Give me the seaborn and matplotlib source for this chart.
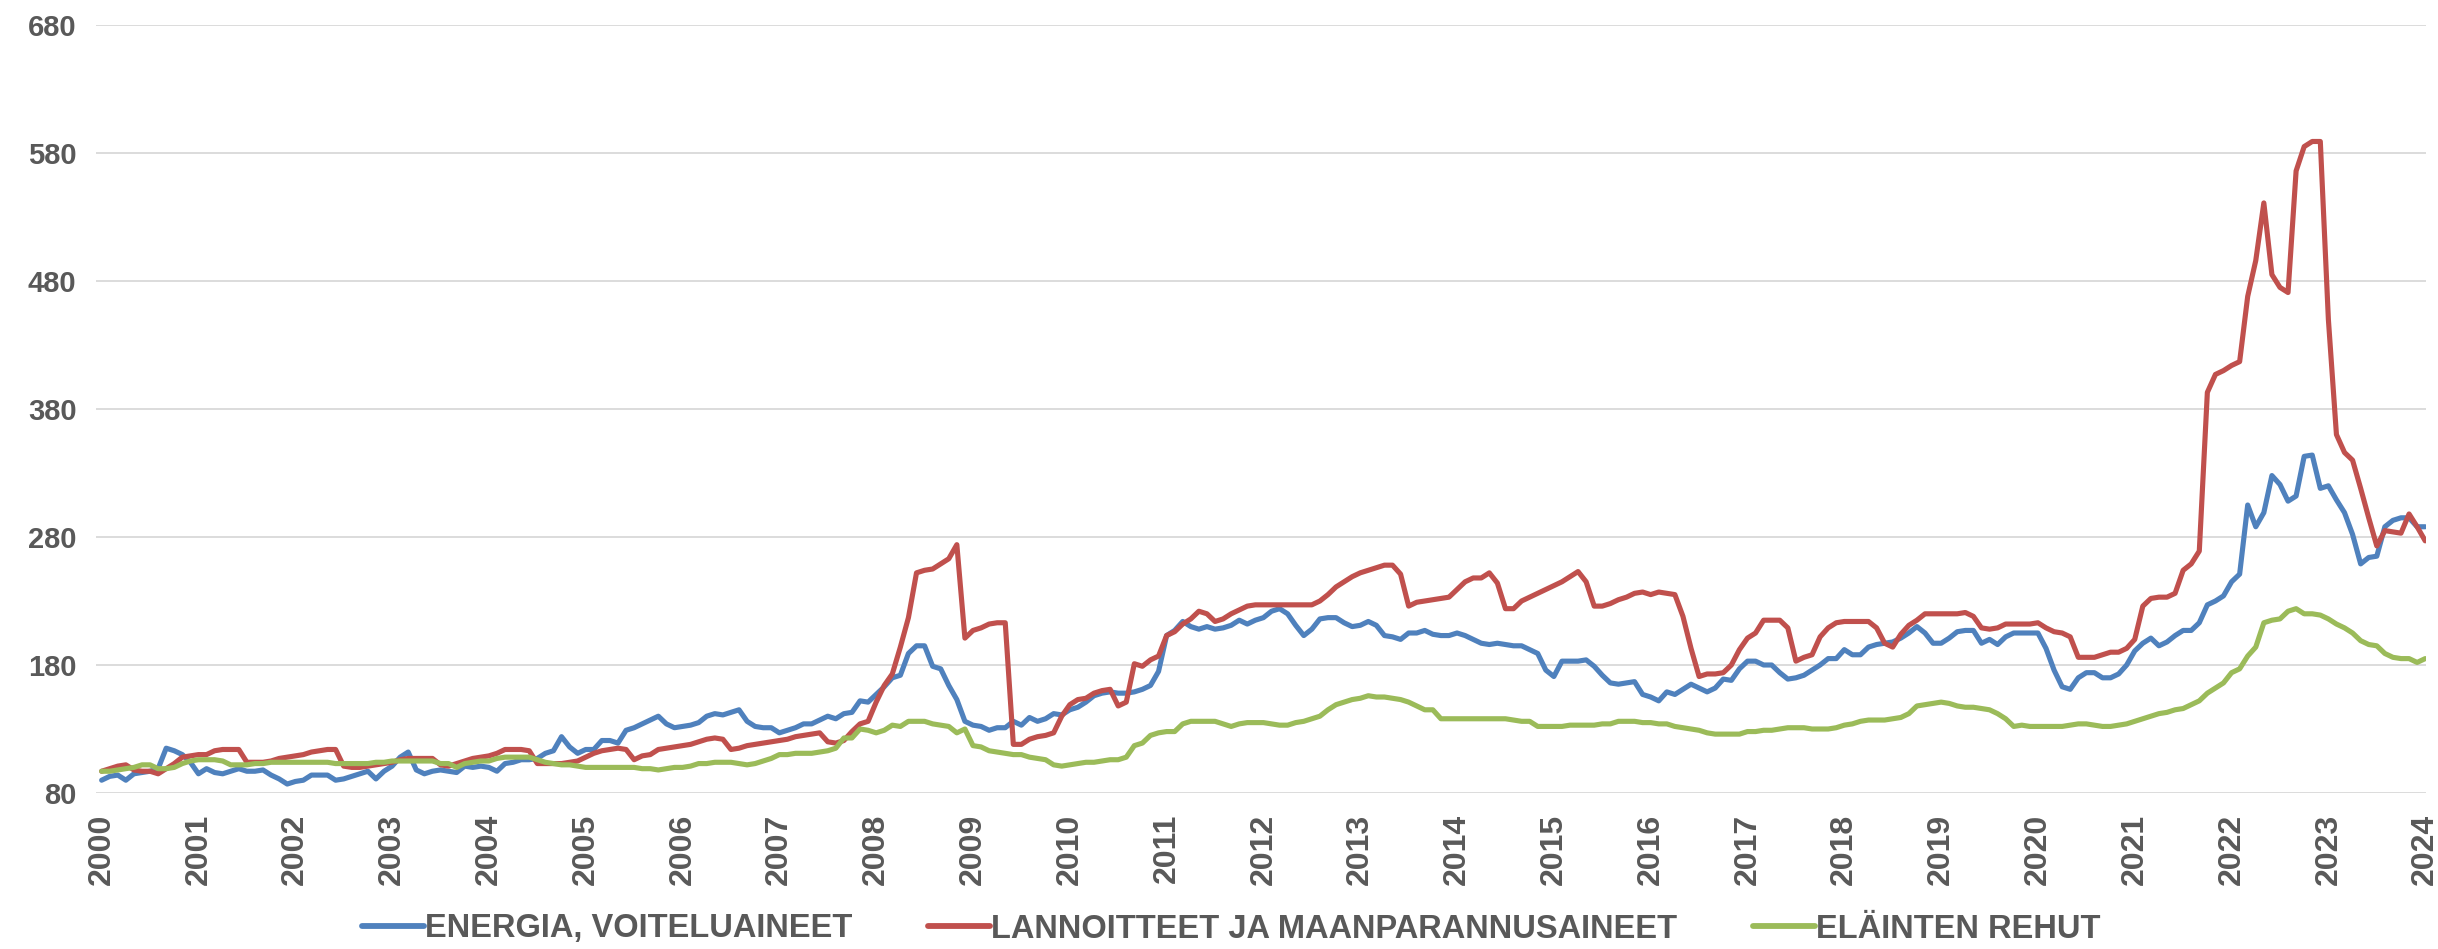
import numpy as np
import pandas as pd
import matplotlib
matplotlib.use("Agg")
import matplotlib.pyplot as plt
import seaborn as sns

# ---- data (monthly index values, 2000-01 ... 2024-01) ----
year_labels = [str(y) for y in range(2000, 2025)]

energia = [
    90, 93, 94, 90, 95, 96, 97, 99, 115, 113, 110, 104,          # 2000
    95, 99, 96, 95, 97, 99, 97, 97, 98, 94, 91, 87,              # 2001
    89, 90, 94, 94, 94, 90, 91, 93, 95, 97, 91, 97,              # 2002
    101, 108, 112, 98, 95, 97, 98, 97, 96, 101, 100, 101,        # 2003
    100, 97, 103, 104, 106, 106, 107, 111, 113, 124, 116, 111,   # 2004
    114, 114, 121, 121, 119, 129, 131, 134, 137, 140, 134, 131,  # 2005
    132, 133, 135, 140, 142, 141, 143, 145, 136, 132, 131, 131,  # 2006
    127, 129, 131, 134, 134, 137, 140, 138, 142, 143, 152, 151,  # 2007
    157, 163, 170, 172, 189, 195, 195, 179, 177, 164, 153, 136,  # 2008
    133, 132, 129, 131, 131, 136, 133, 139, 136, 138, 142, 141,  # 2009
    145, 147, 151, 156, 158, 159, 158, 158, 159, 161, 164, 175,  # 2010
    203, 207, 214, 210, 208, 210, 208, 209, 211, 215, 212, 215,  # 2011
    217, 222, 224, 220, 211, 203, 208, 216, 217, 217, 213, 210,  # 2012
    211, 214, 211, 203, 202, 200, 205, 205, 207, 204, 203, 203,  # 2013
    205, 203, 200, 197, 196, 197, 196, 195, 195, 192, 189, 176,  # 2014
    171, 183, 183, 183, 184, 179, 172, 166, 165, 166, 167, 157,  # 2015
    155, 152, 159, 157, 161, 165, 162, 159, 162, 169, 168, 177,  # 2016
    183, 183, 180, 180, 174, 169, 170, 172, 176, 180, 185, 185,  # 2017
    192, 188, 188, 194, 196, 197, 198, 201, 205, 210, 205, 197,  # 2018
    197, 201, 206, 207, 207, 197, 200, 196, 202, 205, 205, 205,  # 2019
    205, 193, 176, 163, 161, 170, 174, 174, 170, 170, 173, 180,  # 2020
    191, 197, 201, 195, 198, 203, 207, 207, 213, 227, 230, 234,  # 2021
    245, 251, 305, 288, 299, 328, 321, 308, 312, 343, 344, 318,  # 2022
    320, 309, 299, 282, 259, 264, 265, 288, 293, 295, 295, 288,  # 2023
    288,                                                          # 2024
]

lannoitteet = [
    97, 99, 101, 102, 98, 97, 97, 95, 99, 103, 108, 109,         # 2000
    110, 110, 113, 114, 114, 114, 104, 104, 104, 105, 107, 108,  # 2001
    109, 110, 112, 113, 114, 114, 101, 100, 100, 101, 102, 103,  # 2002
    104, 106, 107, 107, 107, 107, 102, 101, 103, 105, 107, 108,  # 2003
    109, 111, 114, 114, 114, 113, 103, 103, 103, 103, 104, 105,  # 2004
    108, 111, 113, 114, 115, 114, 106, 109, 110, 114, 115, 116,  # 2005
    117, 118, 120, 122, 123, 122, 114, 115, 117, 118, 119, 120,  # 2006
    121, 122, 124, 125, 126, 127, 120, 119, 121, 128, 134, 136,  # 2007
    151, 164, 173, 194, 217, 252, 254, 255, 259, 263, 274, 201,  # 2008
    207, 209, 212, 213, 213, 118, 118, 122, 124, 125, 127, 140,  # 2009
    149, 153, 154, 158, 160, 161, 148, 151, 181, 179, 184, 187,  # 2010
    203, 206, 212, 216, 222, 220, 214, 216, 220, 223, 226, 227,  # 2011
    227, 227, 227, 227, 227, 227, 227, 230, 235, 241, 245, 249,  # 2012
    252, 254, 256, 258, 258, 251, 226, 229, 230, 231, 232, 233,  # 2013
    239, 245, 248, 248, 252, 244, 224, 224, 230, 233, 236, 239,  # 2014
    242, 245, 249, 253, 245, 226, 226, 228, 231, 233, 236, 237,  # 2015
    235, 237, 236, 235, 218, 193, 171, 173, 173, 174, 180, 192,  # 2016
    201, 205, 215, 215, 215, 209, 183, 186, 188, 202, 209, 213,  # 2017
    214, 214, 214, 214, 209, 197, 194, 204, 211, 215, 220, 220,  # 2018
    220, 220, 220, 221, 218, 209, 208, 209, 212, 212, 212, 212,  # 2019
    213, 209, 206, 205, 202, 186, 186, 186, 188, 190, 190, 193,  # 2020
    200, 226, 232, 233, 233, 236, 254, 259, 269, 393, 407, 410,  # 2021
    414, 417, 468, 496, 541, 485, 475, 471, 566, 585, 589, 589,  # 2022
    450, 360, 346, 340, 318, 295, 273, 285, 284, 283, 298, 288,  # 2023
    277,                                                          # 2024
]

rehut = [
    97, 97, 98, 99, 100, 102, 102, 99, 99, 100, 103, 105,        # 2000
    106, 106, 106, 105, 102, 102, 102, 103, 103, 104, 104, 104,  # 2001
    104, 104, 104, 104, 104, 103, 103, 103, 103, 103, 104, 104,  # 2002
    105, 105, 105, 105, 105, 105, 103, 103, 100, 103, 104, 105,  # 2003
    105, 107, 108, 108, 108, 108, 106, 104, 103, 102, 102, 101,  # 2004
    100, 100, 100, 100, 100, 100, 100, 99, 99, 98, 99, 100,      # 2005
    100, 101, 103, 103, 104, 104, 104, 103, 102, 103, 105, 107,  # 2006
    110, 110, 111, 111, 111, 112, 113, 115, 123, 123, 130, 129,  # 2007
    127, 129, 133, 132, 136, 136, 136, 134, 133, 132, 127, 130,  # 2008
    117, 116, 113, 112, 111, 110, 110, 108, 107, 106, 102, 101,  # 2009
    102, 103, 104, 104, 105, 106, 106, 108, 117, 119, 125, 127,  # 2010
    128, 128, 134, 136, 136, 136, 136, 134, 132, 134, 135, 135,  # 2011
    135, 134, 133, 133, 135, 136, 138, 140, 145, 149, 151, 153,  # 2012
    154, 156, 155, 155, 154, 153, 151, 148, 145, 145, 138, 138,  # 2013
    138, 138, 138, 138, 138, 138, 138, 137, 136, 136, 132, 132,  # 2014
    132, 132, 133, 133, 133, 133, 134, 134, 136, 136, 136, 135,  # 2015
    135, 134, 134, 132, 131, 130, 129, 127, 126, 126, 126, 126,  # 2016
    128, 128, 129, 129, 130, 131, 131, 131, 130, 130, 130, 131,  # 2017
    133, 134, 136, 137, 137, 137, 138, 139, 142, 148, 149, 150,  # 2018
    151, 150, 148, 147, 147, 146, 145, 142, 138, 132, 133, 132,  # 2019
    132, 132, 132, 132, 133, 134, 134, 133, 132, 132, 133, 134,  # 2020
    136, 138, 140, 142, 143, 145, 146, 149, 152, 158, 162, 166,  # 2021
    174, 177, 187, 194, 213, 215, 216, 222, 224, 220, 220, 219,  # 2022
    216, 212, 209, 205, 199, 196, 195, 189, 186, 185, 185, 182,  # 2023
    185,                                                          # 2024
]

series_names = ["ENERGIA, VOITELUAINEET",
                "LANNOITTEET JA MAANPARANNUSAINEET",
                "ELÄINTEN REHUT"]
y_ticks = [80, 180, 280, 380, 480, 580, 680]

# ---- styling ----
colors = ["#4F81BD", "#C0504D", "#9BBB59"]
text_color = "#595959"
grid_color = "#D9D9D9"

months = np.arange(len(energia))
df = pd.concat([
    pd.DataFrame({"kk": months, "arvo": vals, "sarja": name})
    for name, vals in zip(series_names, [energia, lannoitteet, rehut])
], ignore_index=True)

sns.set_theme(style="white")
plt.rcParams["font.family"] = ["Liberation Sans", "DejaVu Sans"]

W, H = 2438, 949
fig = plt.figure(figsize=(W / 100, H / 100), dpi=100)
left, right, top, bottom = 96 / W, 2426 / W, 1 - 25 / H, 1 - 793 / H
ax = fig.add_axes([left, bottom, right - left, top - bottom])

sns.lineplot(data=df, x="kk", y="arvo", hue="sarja", hue_order=series_names,
             palette=colors, linewidth=3.7, ax=ax, legend=True)

ax.set_ylim(80, 680)
ax.set_xlim(-0.7, len(energia) - 1 + 0.1)
ax.set_yticks(y_ticks)
ax.set_yticklabels([str(v) for v in y_ticks])
ax.set_xticks(np.arange(0, len(energia), 12))
ax.set_xticklabels(year_labels, rotation=90)
ax.grid(axis="y", color=grid_color, linewidth=1.3)
ax.grid(axis="x", visible=False)
ax.set_axisbelow(True)
for s in ax.spines.values():
    s.set_visible(False)
ax.tick_params(axis="y", length=0, pad=14, labelsize=21, labelcolor=text_color)
ax.tick_params(axis="x", length=0, pad=15, labelsize=23, labelcolor=text_color)
for lab in ax.get_xticklabels() + ax.get_yticklabels():
    lab.set_fontweight("bold")
ax.set_xlabel("")
ax.set_ylabel("")

handles, labels = ax.get_legend_handles_labels()
ax.get_legend().remove()
leg = fig.legend(handles, labels, loc="center", bbox_to_anchor=(0.505, 1 - 929 / H),
                 ncol=3, frameon=False, handlelength=1.9, handletextpad=0.05,
                 columnspacing=2.3, prop={"size": 23.5, "weight": "bold"})
for t in leg.get_texts():
    t.set_color(text_color)
for lh in leg.get_lines():
    lh.set_linewidth(4.2)

fig.savefig("out.png", dpi=100)
